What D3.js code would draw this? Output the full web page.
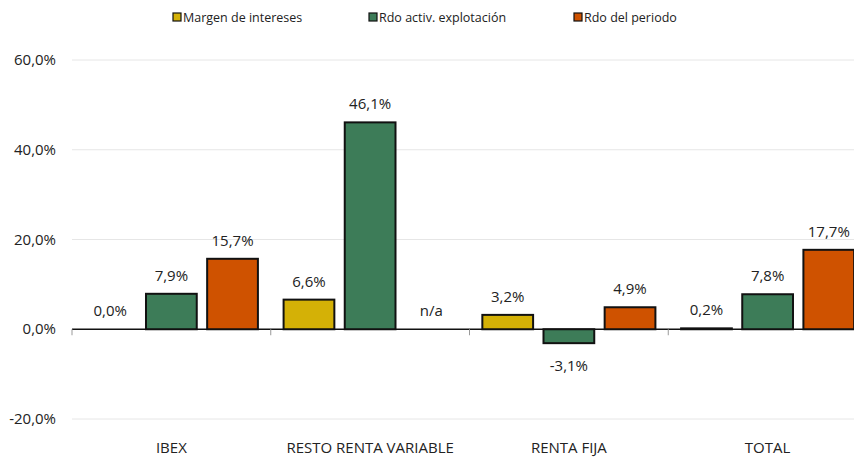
<!DOCTYPE html>
<html>
<head>
<meta charset="utf-8">
<script src="https://cdn.jsdelivr.net/npm/d3@7"></script>
<style>
  body { margin: 0; background: #fff; }
  svg { display: block; font-family: "Open Sans", sans-serif; }
</style>
</head>
<body>
<div id="chart"></div>
<script>
// data
const categories = ["IBEX", "RESTO RENTA VARIABLE", "RENTA FIJA", "TOTAL"]
const seriesNames = ["Margen de intereses", "Rdo activ. explotación", "Rdo del periodo"]
const seriesColors = ["#d4b106", "#3d7c58", "#cf5200"]
const margenValues = [0.0, 6.6, 3.2, 0.2]
const rdoActivValues = [7.9, 46.1, -3.1, 7.8]
const rdoPeriodoValues = [15.7, null, 4.9, 17.7]
const yTicks = [-20, 0, 20, 40, 60]

const seriesValues = [margenValues, rdoActivValues, rdoPeriodoValues]

const dimensions = {
    width: 854,
    height: 459,
    margin: { top: 60, left: 72 }
}
dimensions.plotRight = 867
dimensions.plotBottom = 419

const svg = d3.select("#chart")
    .append("svg")
    .attr("width", dimensions.width)
    .attr("height", dimensions.height)

// scales
const xScale = d3.scaleBand()
    .domain(categories)
    .range([dimensions.margin.left, dimensions.plotRight])
    .paddingInner(0)
    .paddingOuter(0)

const innerScale = d3.scaleBand()
    .domain(seriesNames)
    .range([0, xScale.bandwidth()])
    .paddingInner(0.17)
    .paddingOuter(0.21)

const yScale = d3.scaleLinear()
    .domain([-20, 60])
    .range([dimensions.plotBottom, dimensions.margin.top])

// spanish style: comma decimal, plain hyphen for negatives
const fmt = v => d3.format(".1f")(v).replace(".", ",").replace("\u2212", "-") + "%"

// gridlines
svg.append("g")
    .selectAll("line")
    .data(yTicks.filter(d => d !== 0))
    .join("line")
    .attr("x1", dimensions.margin.left)
    .attr("x2", dimensions.plotRight)
    .attr("y1", d => yScale(d))
    .attr("y2", d => yScale(d))
    .attr("stroke", "#e6e6e6")
    .attr("stroke-width", 1)

// y labels
svg.append("g")
    .selectAll("text")
    .data(yTicks)
    .join("text")
    .attr("x", 56)
    .attr("y", d => yScale(d) + 5)
    .attr("text-anchor", "end")
    .attr("font-size", 15)
    .attr("fill", "#222")
    .text(d => fmt(d))

// bars
const rows = []
categories.forEach((c, i) => {
    seriesNames.forEach((s, j) => {
        rows.push({ category: c, series: s, color: seriesColors[j], value: seriesValues[j][i] })
    })
})

// zero axis
const axisGroup = svg.append("g")
axisGroup.append("line")
    .attr("x1", dimensions.margin.left)
    .attr("x2", dimensions.plotRight)
    .attr("y1", yScale(0))
    .attr("y2", yScale(0))
    .attr("stroke", "#111")
    .attr("stroke-width", 1.5)
axisGroup.selectAll(".tick")
    .data(categories)
    .join("line")
    .attr("class", "tick")
    .attr("x1", d => xScale(d))
    .attr("x2", d => xScale(d))
    .attr("y1", yScale(0))
    .attr("y2", yScale(0) + 6)
    .attr("stroke", "#999")

const barGroup = svg.append("g")
barGroup.selectAll("rect")
    .data(rows.filter(d => d.value !== null))
    .join("rect")
    .attr("x", d => xScale(d.category) + innerScale(d.series))
    .attr("width", innerScale.bandwidth())
    .attr("y", d => yScale(Math.max(0, d.value)))
    .attr("height", d => Math.abs(yScale(d.value) - yScale(0)))
    .attr("fill", d => d.color)
    .attr("stroke", "#111")
    .attr("stroke-width", 2)

// value labels
svg.append("g")
    .selectAll("text")
    .data(rows)
    .join("text")
    .attr("x", d => xScale(d.category) + innerScale(d.series) + innerScale.bandwidth() / 2)
    .attr("y", d => d.value === null ? yScale(0) - 13
        : d.value < 0 ? yScale(d.value) + 28 : yScale(d.value) - 13)
    .attr("text-anchor", "middle")
    .attr("font-size", 15)
    .attr("fill", "#222")
    .text(d => d.value === null ? "n/a" : fmt(d.value))

// category labels
svg.append("g")
    .selectAll("text")
    .data(categories)
    .join("text")
    .attr("x", d => xScale(d) + xScale.bandwidth() / 2)
    .attr("y", 453)
    .attr("text-anchor", "middle")
    .attr("font-size", 15)
    .attr("fill", "#222")
    .text(d => d)

// legend
const legendX = [173, 369, 574]
const legend = svg.append("g")
seriesNames.forEach((s, i) => {
    legend.append("rect")
        .attr("x", legendX[i])
        .attr("y", 13)
        .attr("width", 8)
        .attr("height", 8)
        .attr("fill", seriesColors[i])
        .attr("stroke", "#111")
        .attr("stroke-width", 1.2)
    legend.append("text")
        .attr("x", legendX[i] + 10)
        .attr("y", 21.5)
        .attr("font-size", 12.5)
        .attr("fill", "#222")
        .text(s)
})
</script>
</body>
</html>
